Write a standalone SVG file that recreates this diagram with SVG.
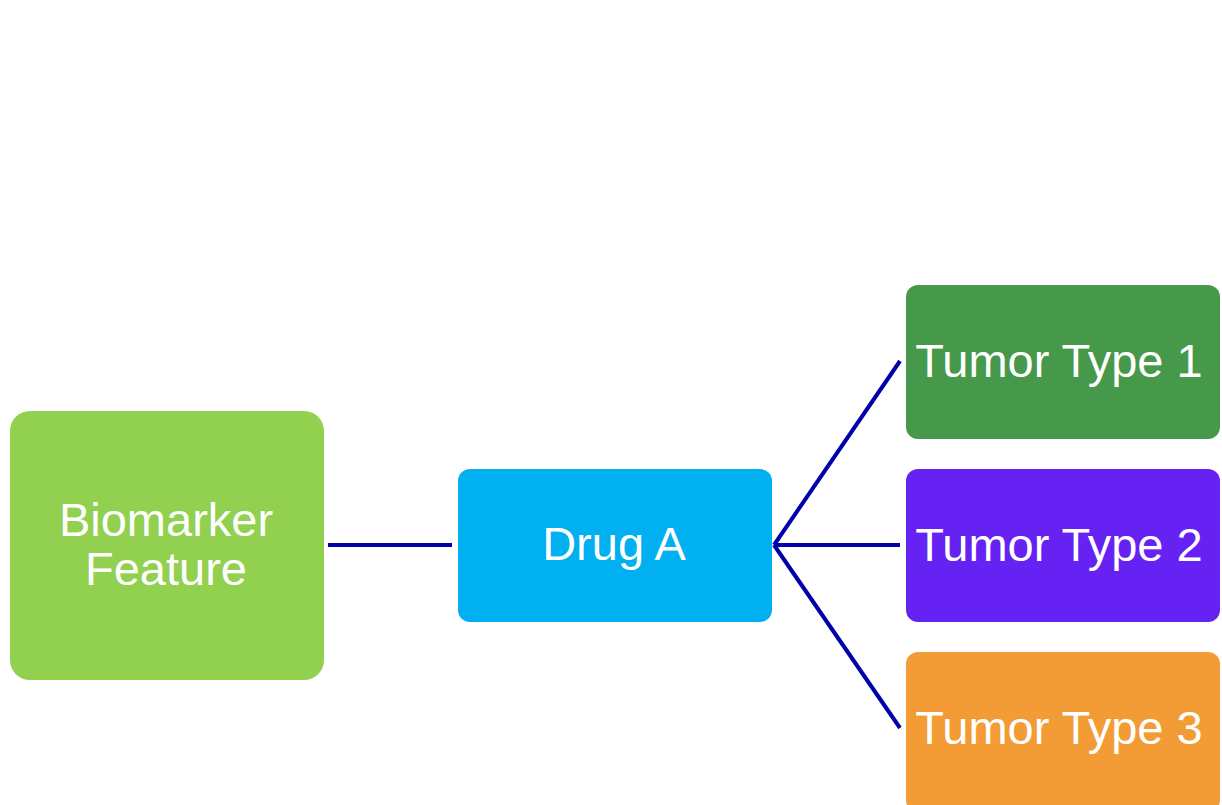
<svg xmlns="http://www.w3.org/2000/svg" width="1222" height="805" viewBox="0 0 1222 805">
<style>
.box{stroke:none}
.lbl{font-family:"Liberation Sans",Arial,Helvetica,sans-serif;font-size:47px;fill:#ffffff;text-anchor:middle}
.conn{stroke:#0000AA;stroke-width:4;fill:none}
</style>
<rect width="1222" height="805" fill="#ffffff"/>
<g id="connectors">
<line class="conn" x1="328" y1="545" x2="452" y2="545"/>
<line class="conn" x1="774" y1="545" x2="900" y2="361"/>
<line class="conn" x1="774" y1="545" x2="900" y2="545"/>
<line class="conn" x1="774" y1="545" x2="900" y2="728"/>
</g>
<g id="biomarker">
<rect class="box" x="10" y="411" width="314" height="269" rx="20" fill="#92D050"/>
<text class="lbl" x="166" y="536">Biomarker</text>
<text class="lbl" x="166" y="585">Feature</text>
</g>
<g id="drugA">
<rect class="box" x="458" y="469" width="314" height="153" rx="12" fill="#00B0F0"/>
<text class="lbl" x="614" y="560">Drug A</text>
</g>
<g id="tumor1">
<rect class="box" x="906" y="285" width="314" height="154" rx="12" fill="#46984A"/>
<text class="lbl" x="1059" y="377">Tumor Type 1</text>
</g>
<g id="tumor2">
<rect class="box" x="906" y="469" width="314" height="153" rx="12" fill="#6621F3"/>
<text class="lbl" x="1059" y="561">Tumor Type 2</text>
</g>
<g id="tumor3">
<rect class="box" x="906" y="652" width="314" height="160" rx="12" fill="#F39C35"/>
<text class="lbl" x="1059" y="744">Tumor Type 3</text>
</g>
</svg>
